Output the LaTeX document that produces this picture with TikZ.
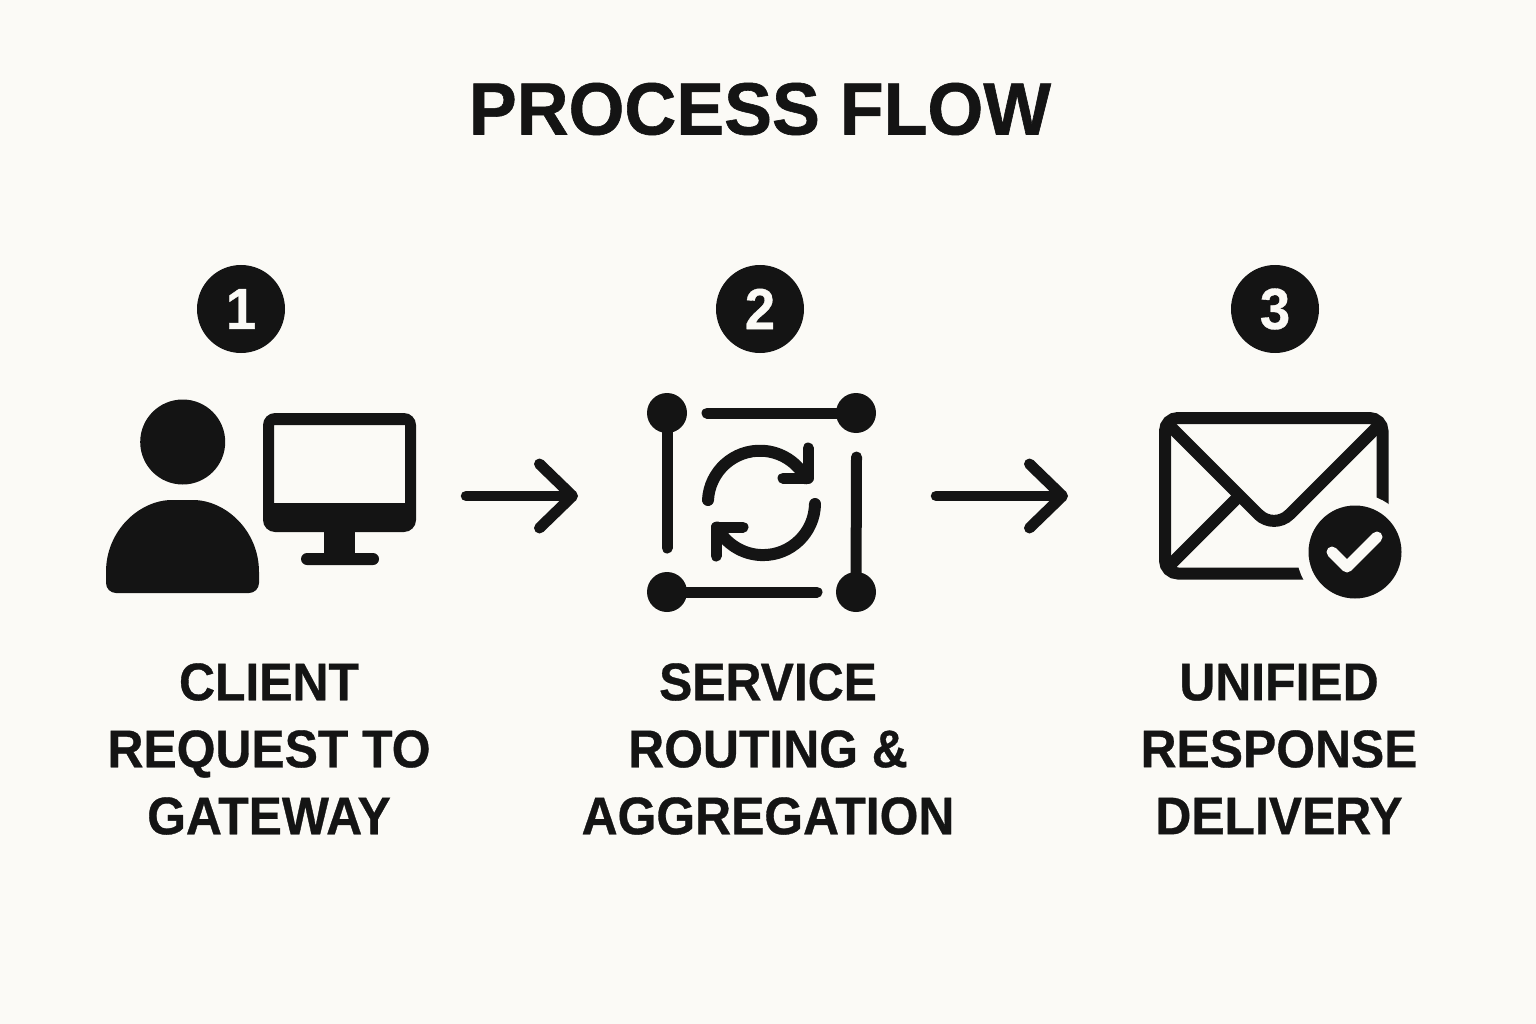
\documentclass[tikz,border=0pt]{standalone}
\usepackage{fontspec}
\setmainfont{Liberation Sans}
\newfontfamily\labelfont[FakeStretch=0.94,FakeBold=0.6]{Liberation Sans Bold}
\newfontfamily\titlefont[FakeStretch=0.97,FakeBold=0.8]{Liberation Sans Bold}
\usetikzlibrary{arrows.meta}
\definecolor{paper}{HTML}{FBFAF6}
\definecolor{ink}{HTML}{141414}
\begin{document}
\begin{tikzpicture}[x=1pt,y=-1pt,
    thin line/.style={draw=ink,line width=11pt,line cap=round},
    env line/.style={draw=ink,line width=12pt},
    flow arrow/.style={draw=ink,line width=10.5pt,line cap=round,-{Straight Barb[round,length=33pt,width=64pt,line width=11pt]}},
    badge/.style={circle,fill=ink,text=paper,inner sep=0pt,minimum size=88pt,font=\fontsize{58}{58}\selectfont\labelfont},
    caption/.style={align=center,text=ink,font=\fontsize{53}{67}\selectfont\labelfont}]
    \useasboundingbox[fill=paper] (0,0) rectangle (1536,1024);
    \node[text=ink,font=\fontsize{74}{74}\selectfont\titlefont] (title) at (760,109) {PROCESS FLOW};
    \node[badge] (one) at (241,309) {1};
    \node[badge] (two) at (760,309) {2};
    \node[badge] (three) at (1275,309) {3};
    \node[caption] (client) at (269,749) {CLIENT\\REQUEST TO\\GATEWAY};
    \node[caption] (service) at (768,749) {SERVICE\\ROUTING \&\\AGGREGATION};
    \node[caption] (unified) at (1279,749) {UNIFIED\\RESPONSE\\DELIVERY};
    \fill[ink] (182.7,442) circle (42.5);
    \fill[ink] (116,593) arc[start angle=90,end angle=180,radius=10] -- (106,572)
        .. controls (106,530) and (140,500) .. (172,500) -- (193,500)
        .. controls (225,500) and (259,530) .. (259,572) -- (259,583)
        arc[start angle=0,end angle=90,radius=10] -- cycle;
    \fill[ink,rounded corners=12pt,even odd rule] (263,413) rectangle (416,532)
        [sharp corners] (274,425) rectangle (405,503);
    \fill[ink] (324,530) rectangle (355,556);
    \fill[ink,rounded corners=6pt] (301,553) rectangle (379,565);
    \foreach \x/\y/\name in {667/413/tl,856/413/tr,667/592/bl,856/592/br}
        \fill[ink] (\x,\y) circle (20) coordinate (\name);
    \draw[thin line] (707,413) -- (tr);
    \draw[thin line] (tl) -- (667,548);
    \draw[thin line] (856.5,457) -- (br);
    \draw[thin line] (bl) -- (817,592);
    \draw[thin line,line width=12pt] (708,500) arc[start angle=183,end angle=332,radius=52];
    \draw[thin line,line join=round] (808,448) -- (808,478) -- (783,478);
    \draw[thin line,line width=12pt] (815,504) arc[start angle=1,end angle=152,radius=52];
    \draw[thin line,line join=round] (743,527) -- (716,527) -- (716,556);
    \draw[env line,rounded corners=13pt] (1165,418) rectangle (1382.5,573.5);
    \draw[env line,rounded corners=22pt] (1167,423) -- (1274,530) -- (1380,424);
    \draw[env line] (1167,568) -- (1236,499);
    \fill[paper] (1355,552) circle (58.5);
    \node[circle,fill=ink,inner sep=0pt,minimum size=93pt] (check) at (1355,552) {};
    \draw[draw=paper,line width=11pt,line cap=round,line join=round] (1332,552) -- (1347,567) -- (1377,537);
    \coordinate (a1) at (466,496);
    \coordinate (a2) at (578,496);
    \coordinate (b1) at (936,496);
    \coordinate (b2) at (1068,496);
    \draw[flow arrow] (a1) -- (a2);
    \draw[flow arrow] (b1) -- (b2);
\end{tikzpicture}
\end{document}
